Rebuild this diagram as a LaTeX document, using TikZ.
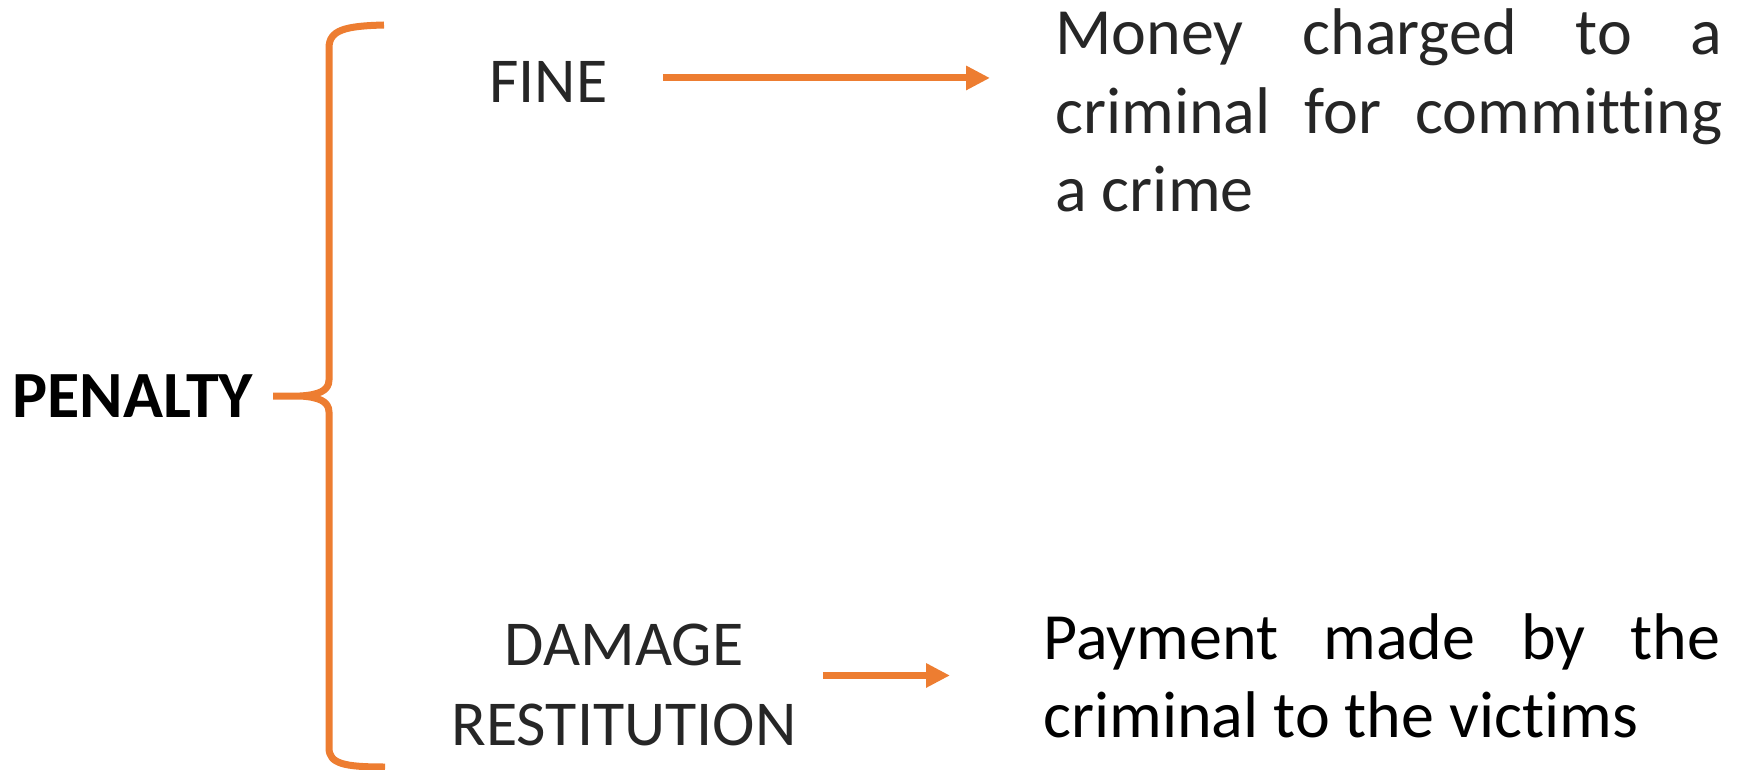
\documentclass[tikz,border=0pt]{standalone}
\usepackage{fontspec}
\setmainfont{Carlito}[Ligatures=NoCommon]
\usetikzlibrary{positioning, calc, arrows.meta}
\definecolor{penOrange}{RGB}{237, 125, 49}
\definecolor{penGray}{RGB}{38, 38, 38}

\begin{document}
\begin{tikzpicture}[
    x=0.5pt, y=-0.5pt,
    term/.style={inner sep=0pt, text=penGray, font=\fontsize{32}{40}\selectfont, align=center},
    desc/.style={inner sep=0pt, font=\fontsize{33}{39.25}\selectfont, align=justify},
    brace/.style={draw=penOrange, line width=3.5pt, line cap=butt, line join=round},
    linkArrow/.style={-{Triangle[length=12pt, width=11.5pt]}, penOrange, line width=3.5pt},
  ]
    \useasboundingbox (0,0) rectangle (1740,770);

    % Root term
    \node[inner sep=0pt, font=\fontsize{33}{40}\selectfont\bfseries, anchor=base west] (penalty) at (12,417) {PENALTY};

    % Curly brace
    \draw[brace] (384,25) .. controls (345,26) and (329,30) .. (329,48)
      -- (329,380) .. controls (329,391) and (318,395) .. (300,396) -- (273,396)
      (273,396) -- (300,396) .. controls (318,397) and (329,401) .. (329,412)
      -- (329,748) .. controls (329,764) and (345,767) .. (385,767);

    % Kinds of penalty
    \node[term, anchor=base west] (fine) at (489,103) {FINE};
    \node[term, anchor=base] (damage) at (624,745) {DAMAGE\\RESTITUTION};

    % Meanings
    \node[desc, text=penGray, text width=333.5pt, anchor=base west] (money) at (1055,55)
      {Money charged to a\linebreak criminal for committing\linebreak a crime};
    \node[desc, text width=338.5pt, anchor=base west] (payment) at (1043,659)
      {Payment made by the\linebreak criminal to the victims};

    \draw[linkArrow] ($(fine.east)+(55,-4.5)$) -- ($(fine.east -| money.west)+(-65,-4.5)$);
    \draw[linkArrow] ($(damage.east)+(26,-9)$) -- ($(damage.east -| payment.west)+(-93,-9)$);
  \end{tikzpicture}
\end{document}
